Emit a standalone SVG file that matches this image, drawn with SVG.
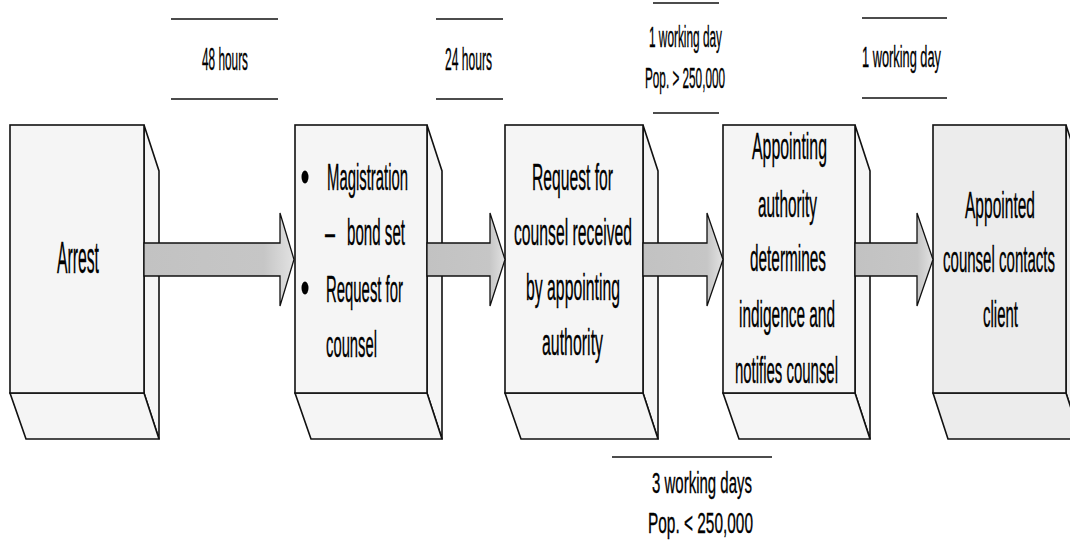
<svg xmlns="http://www.w3.org/2000/svg" width="1070" height="558" viewBox="0 0 1070 558">
  <style>
    .face { fill: #f5f5f5; stroke: #111; stroke-width: 1.6; stroke-linejoin: miter; }
    .face.dim { fill: #ececec; }
    .arrow { fill: url(#arrowFill); stroke: #111; stroke-width: 1.3; }
    .t { font-family: "Liberation Sans", Arial, sans-serif; fill: #000; stroke: #000; stroke-width: 0.35; }
    .node { font-size: 37px; }
    .lbl { font-size: 29px; }
    .rule { stroke: #111; stroke-width: 1.6; }
  </style>
  <defs>
    <linearGradient id="arrowFill" x1="0" y1="0" x2="1" y2="0">
      <stop offset="0" stop-color="#c2c2c2"/>
      <stop offset="0.8" stop-color="#c6c6c6"/>
      <stop offset="1" stop-color="#e2e2e2"/>
    </linearGradient>
  </defs>
  <rect width="1070" height="558" fill="#fff"/>

  <!-- time labels between steps -->
  <g id="labels">
    <line class="rule" x1="171" y1="19" x2="278" y2="19"/>
    <line class="rule" x1="171" y1="99" x2="278" y2="99"/>
    <text class="t" x="202" y="70" font-size="31" textLength="46" lengthAdjust="spacingAndGlyphs">48 hours</text>

    <line class="rule" x1="436" y1="19" x2="503" y2="19"/>
    <line class="rule" x1="436" y1="99" x2="503" y2="99"/>
    <text class="t" x="445" y="70" font-size="31" textLength="47" lengthAdjust="spacingAndGlyphs">24 hours</text>

    <line class="rule" x1="653" y1="3" x2="719" y2="3"/>
    <line class="rule" x1="653" y1="113" x2="719" y2="113"/>
    <text class="t lbl" x="649" y="47" textLength="73" lengthAdjust="spacingAndGlyphs">1 working day</text>
    <text class="t lbl" x="645" y="88" textLength="80" lengthAdjust="spacingAndGlyphs">Pop. &gt; 250,000</text>

    <line class="rule" x1="862" y1="18" x2="947" y2="18"/>
    <line class="rule" x1="862" y1="98" x2="947" y2="98"/>
    <text class="t lbl" x="862" y="67" textLength="79" lengthAdjust="spacingAndGlyphs">1 working day</text>

    <line class="rule" x1="612" y1="457" x2="772" y2="457"/>
    <text class="t lbl" x="652" y="493" textLength="100" lengthAdjust="spacingAndGlyphs">3 working days</text>
    <text class="t lbl" x="648" y="533" textLength="105" lengthAdjust="spacingAndGlyphs">Pop. &lt; 250,000</text>
  </g>

  <!-- step 1 -->
  <g id="arrest">
    <polygon class="face" points="144,125 159,171 159,439 144,393"/>
    <polygon class="face" points="10,393 144,393 159,439 26,439"/>
    <rect class="face" x="10" y="125" width="134" height="268"/>
    <text class="t" x="57" y="273" font-size="45" textLength="42" lengthAdjust="spacingAndGlyphs">Arrest</text>
  </g>

  <!-- step 2 -->
  <g id="magistration">
    <polygon class="face" points="427,125 442,171 442,439 427,393"/>
    <polygon class="face" points="295,393 427,393 442,439 311,439"/>
    <rect class="face" x="295" y="125" width="132" height="268"/>
    <ellipse cx="305" cy="177" rx="3.5" ry="6.5" fill="#000"/>
    <text class="t node" x="327" y="190" textLength="81" lengthAdjust="spacingAndGlyphs">Magistration</text>
    <text class="t node" x="325" y="245" textLength="10" lengthAdjust="spacingAndGlyphs">–</text>
    <text class="t node" x="347" y="245" textLength="58" lengthAdjust="spacingAndGlyphs">bond set</text>
    <ellipse cx="305" cy="288" rx="3.5" ry="6.5" fill="#000"/>
    <text class="t node" x="326" y="302" textLength="77" lengthAdjust="spacingAndGlyphs">Request for</text>
    <text class="t node" x="326" y="357" textLength="51" lengthAdjust="spacingAndGlyphs">counsel</text>
  </g>

  <!-- step 3 -->
  <g id="request-received">
    <polygon class="face" points="643,125 658,171 658,439 643,393"/>
    <polygon class="face" points="505,393 643,393 658,439 521,439"/>
    <rect class="face" x="505" y="125" width="138" height="268"/>
    <text class="t node" x="532" y="190" textLength="81" lengthAdjust="spacingAndGlyphs">Request for</text>
    <text class="t node" x="514" y="245" textLength="118" lengthAdjust="spacingAndGlyphs">counsel received</text>
    <text class="t node" x="526" y="300" textLength="94" lengthAdjust="spacingAndGlyphs">by appointing</text>
    <text class="t node" x="542" y="355" textLength="61" lengthAdjust="spacingAndGlyphs">authority</text>
  </g>

  <!-- step 4 -->
  <g id="appointing-authority">
    <polygon class="face" points="855,125 870,171 870,439 855,393"/>
    <polygon class="face" points="723,393 855,393 870,439 739,439"/>
    <rect class="face" x="723" y="125" width="132" height="268"/>
    <text class="t node" x="752" y="159" textLength="75" lengthAdjust="spacingAndGlyphs">Appointing</text>
    <text class="t node" x="758" y="217" textLength="59" lengthAdjust="spacingAndGlyphs">authority</text>
    <text class="t node" x="750" y="271" textLength="76" lengthAdjust="spacingAndGlyphs">determines</text>
    <text class="t node" x="739" y="327" textLength="96" lengthAdjust="spacingAndGlyphs">indigence and</text>
    <text class="t node" x="735" y="383" textLength="103" lengthAdjust="spacingAndGlyphs">notifies counsel</text>
  </g>

  <!-- step 5 -->
  <g id="counsel-contacts">
    <polygon class="face dim" points="1066,125 1081,171 1081,439 1066,393"/>
    <polygon class="face dim" points="933,393 1066,393 1081,439 948,439"/>
    <rect class="face dim" x="933" y="125" width="133" height="268"/>
    <text class="t node" x="965" y="218" textLength="70" lengthAdjust="spacingAndGlyphs">Appointed</text>
    <text class="t node" x="943" y="272" textLength="112" lengthAdjust="spacingAndGlyphs">counsel contacts</text>
    <text class="t node" x="983" y="327" textLength="35" lengthAdjust="spacingAndGlyphs">client</text>
  </g>

  <!-- block arrows between steps -->
  <g id="connectors">
    <polygon class="arrow" points="144,243 280,243 280,213 294,259.5 280,306 280,276 144,276"/>
    <polygon class="arrow" points="427,243 490,243 490,213 505,259.5 490,306 490,276 427,276"/>
    <polygon class="arrow" points="643,243 707,243 707,213 723,259.5 707,306 707,276 643,276"/>
    <polygon class="arrow" points="855,243 917,243 917,213 933,259.5 917,306 917,276 855,276"/>
  </g>
</svg>
